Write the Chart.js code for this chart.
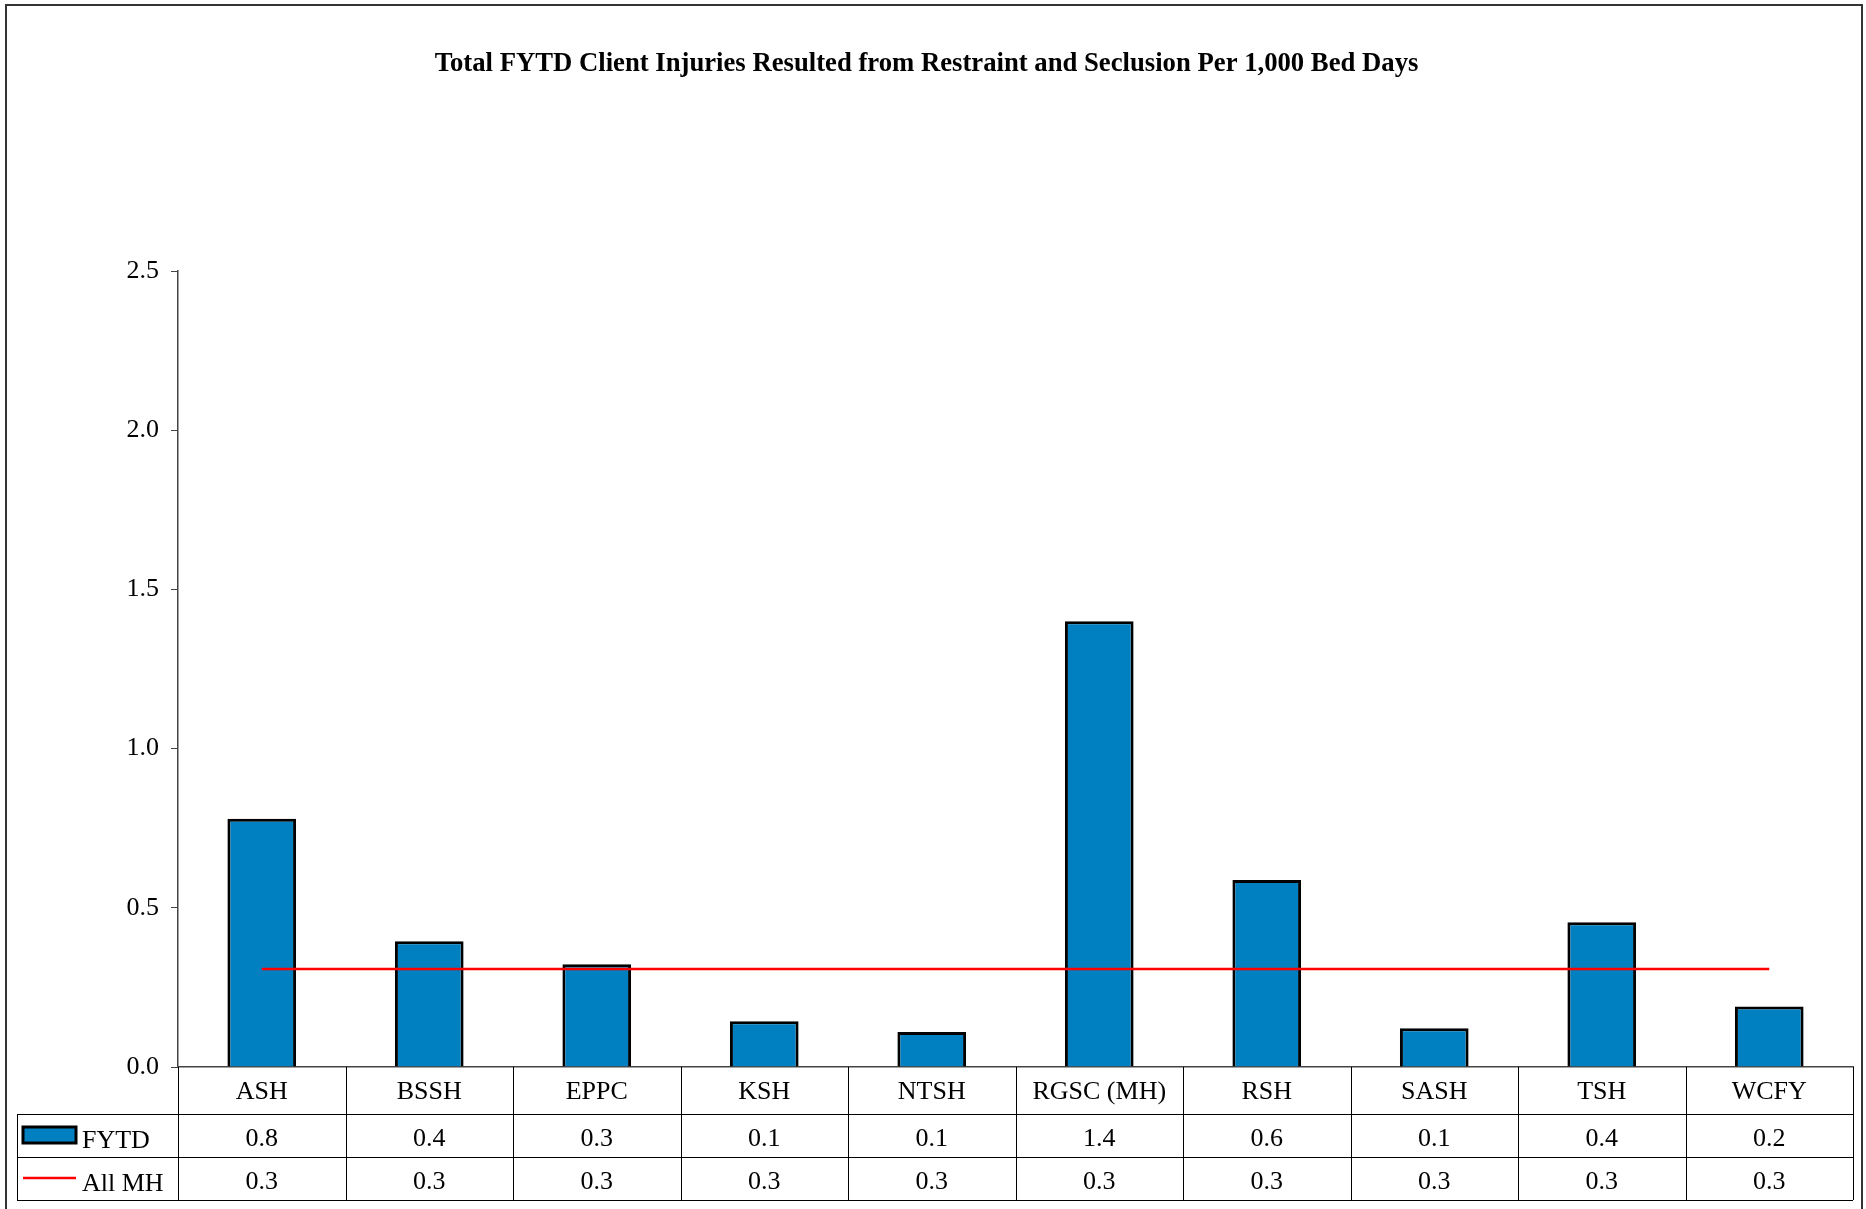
<!DOCTYPE html>
<html>
<head>
<meta charset="utf-8">
<title>Total FYTD Client Injuries</title>
<script src="https://cdn.jsdelivr.net/npm/chart.js"></script>
<style>
    html, body { margin: 0; padding: 0; background: #fff; }
    #chart { display: block; }
</style>
</head>
<body>
<canvas id="chart" width="1866" height="1209"></canvas>
<script>
const categories = ['ASH', 'BSSH', 'EPPC', 'KSH', 'NTSH', 'RGSC (MH)', 'RSH', 'SASH', 'TSH', 'WCFY'];
const fytdValues = [0.78, 0.395, 0.323, 0.144, 0.110, 1.40, 0.587, 0.122, 0.455, 0.19];
const allMhValues = [0.308, 0.308, 0.308, 0.308, 0.308, 0.308, 0.308, 0.308, 0.308, 0.308];
// values as printed in the data table under the chart
const fytdTable = ['0.8', '0.4', '0.3', '0.1', '0.1', '1.4', '0.6', '0.1', '0.4', '0.2'];
const allMhTable = ['0.3', '0.3', '0.3', '0.3', '0.3', '0.3', '0.3', '0.3', '0.3', '0.3'];
const yTicks = [0, 0.5, 1.0, 1.5, 2.0, 2.5];

const serif = "'Liberation Serif', 'Times New Roman', serif";
const barBlue = '#0080C0';
const lineRed = '#FF0000';

// outer frame of the chart
const framePlugin = {
    id: 'frame',
    beforeDraw(chart) {
        const ctx = chart.ctx;
        ctx.save();
        ctx.fillStyle = '#fff';
        ctx.fillRect(0, 0, chart.width, chart.height);
        ctx.strokeStyle = '#333';
        ctx.lineWidth = 2;
        ctx.strokeRect(6, 5, 1856, 1215);
        ctx.restore();
    }
};

// data table under the x axis (labels, FYTD row, All MH row)
const tablePlugin = {
    id: 'dataTable',
    afterDraw(chart) {
        const ctx = chart.ctx;
        const x = chart.scales.x;
        const area = chart.chartArea;
        const left = 17;
        const top = area.bottom;
        const row1 = top + 47;
        const row2 = row1 + 43;
        const row3 = row2 + 43;
        const step = (area.right - area.left) / categories.length;

        ctx.save();
        ctx.strokeStyle = '#000';
        ctx.lineWidth = 1;
        ctx.beginPath();
        [row1, row2, row3].forEach(y => {
            ctx.moveTo(left, y + 0.5);
            ctx.lineTo(area.right, y + 0.5);
        });
        ctx.moveTo(left + 0.5, row1);
        ctx.lineTo(left + 0.5, row3);
        for (let i = 0; i <= categories.length; i++) {
            const cx = Math.round(area.left + i * step) + 0.5;
            ctx.moveTo(cx, top);
            ctx.lineTo(cx, row3);
        }
        ctx.stroke();

        ctx.fillStyle = '#000';
        ctx.font = '26px ' + serif;
        ctx.textAlign = 'center';
        ctx.textBaseline = 'middle';
        categories.forEach((c, i) => {
            const cx = x.getPixelForValue(i);
            ctx.fillText(c, cx, (top + row1) / 2 + 2);
            ctx.fillText(fytdTable[i], cx, (row1 + row2) / 2 + 4);
            ctx.fillText(allMhTable[i], cx, (row2 + row3) / 2 + 4);
        });

        // legend keys
        ctx.fillStyle = barBlue;
        ctx.fillRect(23, row1 + 13, 53, 16);
        ctx.lineWidth = 3;
        ctx.strokeStyle = '#000';
        ctx.strokeRect(23, row1 + 13, 53, 16);
        ctx.strokeStyle = lineRed;
        ctx.lineWidth = 2.5;
        ctx.beginPath();
        ctx.moveTo(23, row2 + 21);
        ctx.lineTo(76, row2 + 21);
        ctx.stroke();

        ctx.fillStyle = '#000';
        ctx.textAlign = 'left';
        ctx.fillText('FYTD', 82, (row1 + row2) / 2 + 6);
        ctx.fillText('All MH', 82, (row2 + row3) / 2 + 6);
        ctx.restore();
    }
};

new Chart(document.getElementById('chart').getContext('2d'), {
    data: {
        labels: categories,
        datasets: [
            {
                type: 'line',
                label: 'All MH',
                data: allMhValues,
                borderColor: lineRed,
                borderWidth: 2.5,
                pointRadius: 0,
                fill: false,
                order: 0
            },
            {
                type: 'bar',
                label: 'FYTD',
                data: fytdValues,
                backgroundColor: barBlue,
                borderColor: '#000',
                borderWidth: 3,
                barPercentage: 0.41,
                categoryPercentage: 1,
                order: 1
            }
        ]
    },
    options: {
        responsive: false,
        animation: false,
        layout: { padding: { left: 0, right: 13, top: 0, bottom: 0 } },
        plugins: {
            legend: { display: false },
            tooltip: { enabled: false },
            title: {
                display: true,
                text: 'Total FYTD Client Injuries Resulted from Restraint and Seclusion Per 1,000 Bed Days',
                color: '#000',
                font: { family: serif, size: 26.7, weight: 'bold' },
                padding: { top: 48.5, bottom: 190.5 }
            }
        },
        scales: {
            x: {
                ticks: { display: false },
                grid: { display: false },
                border: { display: true, color: '#444', width: 1.5 },
                afterFit(scale) { scale.height = 142; }
            },
            y: {
                min: 0,
                max: 2.5,
                afterBuildTicks(scale) { scale.ticks = yTicks.map(v => ({ value: v })); },
                ticks: {
                    color: '#000',
                    font: { family: serif, size: 26 },
                    padding: 12,
                    callback: v => Number(v).toFixed(1)
                },
                grid: { drawOnChartArea: false, drawTicks: true, tickLength: 7, color: '#444' },
                border: { display: true, color: '#444', width: 1.5 },
                afterFit(scale) { scale.width = 178; }
            }
        }
    },
    plugins: [framePlugin, tablePlugin]
});
</script>
</body>
</html>
